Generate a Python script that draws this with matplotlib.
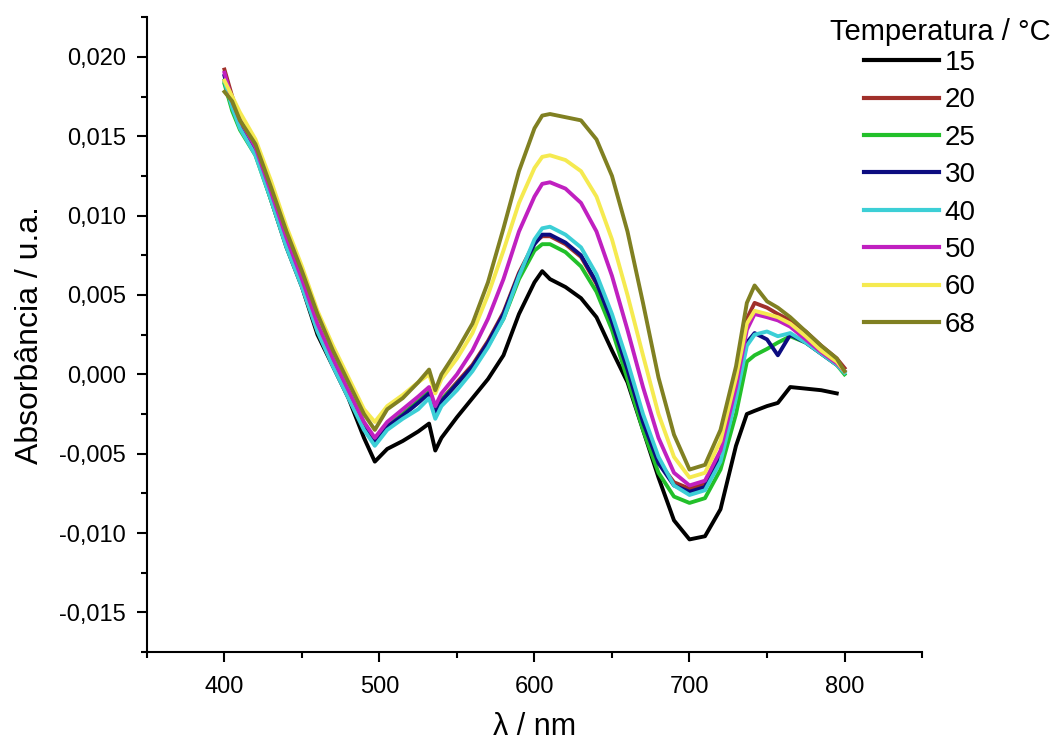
import numpy as np
import matplotlib
matplotlib.use("Agg")
import matplotlib.pyplot as plt
from matplotlib.ticker import MultipleLocator, FuncFormatter

plt.rcParams['font.family'] = ['Liberation Sans', 'DejaVu Sans']

# wavelength knots (nm)
wl = [400, 405, 410, 420, 430, 440, 450, 460, 470, 480, 490, 497, 505, 515, 525,
      532, 536, 540, 550, 560, 570, 580, 590, 600, 605, 610, 620, 630, 640, 650,
      660, 670, 680, 690, 700, 710, 720, 730, 737, 742, 750, 757, 765, 775, 785,
      795, 800]

abs_15 = [0.0185, 0.0170, 0.0158, 0.0140, 0.0110, 0.0080, 0.0055, 0.0025, 0.0005, -0.0015,
          -0.0040, -0.0055, -0.0047, -0.0042, -0.0036, -0.0031, -0.0048, -0.0040, -0.0027, -0.0015,
          -0.0003, 0.0012, 0.0038, 0.0058, 0.0065, 0.0060, 0.0055, 0.0048, 0.0036, 0.0015,
          -0.0005, -0.0035, -0.0065, -0.0092, -0.0104, -0.0102, -0.0085, -0.0045, -0.0025, -0.0023,
          -0.0020, -0.0018, -0.0008, -0.0009, -0.0010, -0.0012, np.nan]
abs_20 = [0.0192, 0.0175, 0.0160, 0.0142, 0.0113, 0.0083, 0.0057, 0.0029, 0.0007, -0.0013,
          -0.0033, -0.0042, -0.0032, -0.0025, -0.0017, -0.0011, -0.0024, -0.0016, -0.0005, 0.0006,
          0.0021, 0.0039, 0.0064, 0.0083, 0.0087, 0.0087, 0.0082, 0.0074, 0.0057, 0.0032,
          0.0002, -0.0030, -0.0055, -0.0068, -0.0072, -0.0069, -0.0050, -0.0008, 0.0035, 0.0045,
          0.0042, 0.0038, 0.0034, 0.0027, 0.0018, 0.0010, 0.0004]
abs_25 = [0.0183, 0.0166, 0.0154, 0.0138, 0.0110, 0.0081, 0.0056, 0.0028, 0.0006, -0.0014,
          -0.0034, -0.0043, -0.0032, -0.0025, -0.0017, -0.0011, -0.0024, -0.0016, -0.0006, 0.0004,
          0.0018, 0.0035, 0.0060, 0.0078, 0.0082, 0.0082, 0.0077, 0.0068, 0.0052, 0.0028,
          -0.0003, -0.0035, -0.0062, -0.0077, -0.0081, -0.0078, -0.0060, -0.0025, 0.0008, 0.0012,
          0.0016, 0.0020, 0.0024, 0.0020, 0.0013, 0.0006, 0.0000]
abs_30 = [0.0188, 0.0170, 0.0157, 0.0140, 0.0112, 0.0082, 0.0056, 0.0028, 0.0006, -0.0014,
          -0.0034, -0.0043, -0.0033, -0.0026, -0.0018, -0.0012, -0.0025, -0.0017, -0.0006, 0.0005,
          0.0020, 0.0038, 0.0063, 0.0082, 0.0088, 0.0088, 0.0083, 0.0075, 0.0058, 0.0033,
          0.0003, -0.0030, -0.0056, -0.0070, -0.0074, -0.0071, -0.0052, -0.0012, 0.0020, 0.0026,
          0.0022, 0.0012, 0.0025, 0.0020, 0.0013, 0.0006, 0.0002]
abs_40 = [0.0185, 0.0168, 0.0155, 0.0138, 0.0110, 0.0080, 0.0055, 0.0027, 0.0005, -0.0015,
          -0.0035, -0.0045, -0.0035, -0.0028, -0.0022, -0.0015, -0.0028, -0.0020, -0.0010, 0.0002,
          0.0017, 0.0035, 0.0062, 0.0085, 0.0092, 0.0093, 0.0088, 0.0080, 0.0063, 0.0038,
          0.0008, -0.0025, -0.0052, -0.0070, -0.0076, -0.0073, -0.0055, -0.0015, 0.0018, 0.0025,
          0.0027, 0.0024, 0.0026, 0.0020, 0.0013, 0.0006, 0.0001]
abs_50 = [0.0190, 0.0172, 0.0160, 0.0143, 0.0115, 0.0086, 0.0060, 0.0032, 0.0010, -0.0010,
          -0.0030, -0.0040, -0.0030, -0.0022, -0.0014, -0.0008, -0.0020, -0.0012, 0.0000, 0.0015,
          0.0035, 0.0060, 0.0090, 0.0112, 0.0120, 0.0121, 0.0117, 0.0108, 0.0090, 0.0062,
          0.0028, -0.0008, -0.0040, -0.0062, -0.0070, -0.0067, -0.0048, -0.0008, 0.0028, 0.0038,
          0.0036, 0.0034, 0.0030, 0.0022, 0.0014, 0.0007, 0.0002]
abs_60 = [0.0185, 0.0175, 0.0165, 0.0148, 0.0122, 0.0093, 0.0068, 0.0040, 0.0018, -0.0002,
          -0.0022, -0.0030, -0.0020, -0.0013, -0.0005, 0.0000, -0.0012, -0.0003, 0.0010, 0.0026,
          0.0050, 0.0078, 0.0108, 0.0130, 0.0137, 0.0138, 0.0135, 0.0128, 0.0112, 0.0085,
          0.0050, 0.0012, -0.0025, -0.0052, -0.0065, -0.0062, -0.0042, -0.0002, 0.0032, 0.0040,
          0.0038, 0.0036, 0.0032, 0.0024, 0.0015, 0.0008, 0.0002]
abs_68 = [0.0178, 0.0172, 0.0160, 0.0145, 0.0118, 0.0090, 0.0065, 0.0038, 0.0015, -0.0005,
          -0.0025, -0.0035, -0.0022, -0.0015, -0.0005, 0.0003, -0.0010, 0.0000, 0.0015, 0.0032,
          0.0058, 0.0092, 0.0128, 0.0155, 0.0163, 0.0164, 0.0162, 0.0160, 0.0148, 0.0125,
          0.0090, 0.0045, -0.0002, -0.0038, -0.0060, -0.0057, -0.0035, 0.0005, 0.0045, 0.0056,
          0.0046, 0.0042, 0.0036, 0.0027, 0.0018, 0.0010, 0.0002]

temps = ["15", "20", "25", "30", "40", "50", "60", "68"]
series = [abs_15, abs_20, abs_25, abs_30, abs_40, abs_50, abs_60, abs_68]
colors = ["#000000", "#a0302a", "#22c02a", "#0c0c80", "#3ccfd6", "#c020c0", "#f5ea50", "#808022"]

fig = plt.figure(figsize=(10.61, 7.47), dpi=100)
ax = fig.add_axes([0.1385, 0.127, 0.7305, 0.85])

for t, y, c in zip(temps, series, colors):
    ax.plot(wl, y, color=c, lw=2.8, label=t)

ax.set_xlim(350, 850)
ax.set_ylim(-0.0175, 0.0225)
ax.xaxis.set_major_locator(MultipleLocator(100))
ax.xaxis.set_minor_locator(MultipleLocator(50))
ax.yaxis.set_major_locator(MultipleLocator(0.005))
ax.yaxis.set_minor_locator(MultipleLocator(0.0025))
ax.yaxis.set_major_formatter(FuncFormatter(lambda v, p: f"{v:.3f}".replace(".", ",")))
ax.xaxis.set_major_formatter(FuncFormatter(lambda v, p: f"{v:.0f}"))

for s in ["top", "right"]:
    ax.spines[s].set_visible(False)
for s in ["left", "bottom"]:
    ax.spines[s].set_linewidth(1.5)
ax.tick_params(which="major", direction="out", length=7, width=1.5, labelsize=17, pad=8)
ax.tick_params(axis="x", which="major", pad=10)
ax.tick_params(which="minor", direction="out", length=4.5, width=1.5)

ax.set_xlabel("λ / nm", fontsize=22, labelpad=10)
ax.set_ylabel("Absorbância / u.a.", fontsize=23, labelpad=10)

fig.text(940 / 1061, 1 - 32 / 747, "Temperatura / °C", ha="center", va="center", fontsize=21)
leg = fig.legend(loc="upper left", bbox_to_anchor=(864 / 1061, 1 - 50 / 747), frameon=False,
                 fontsize=20, handlelength=2.7, handletextpad=0.2, labelspacing=0.41,
                 borderpad=0, borderaxespad=0)
for h in leg.get_lines():
    h.set_linewidth(3)

fig.savefig("out.png", dpi=100)
